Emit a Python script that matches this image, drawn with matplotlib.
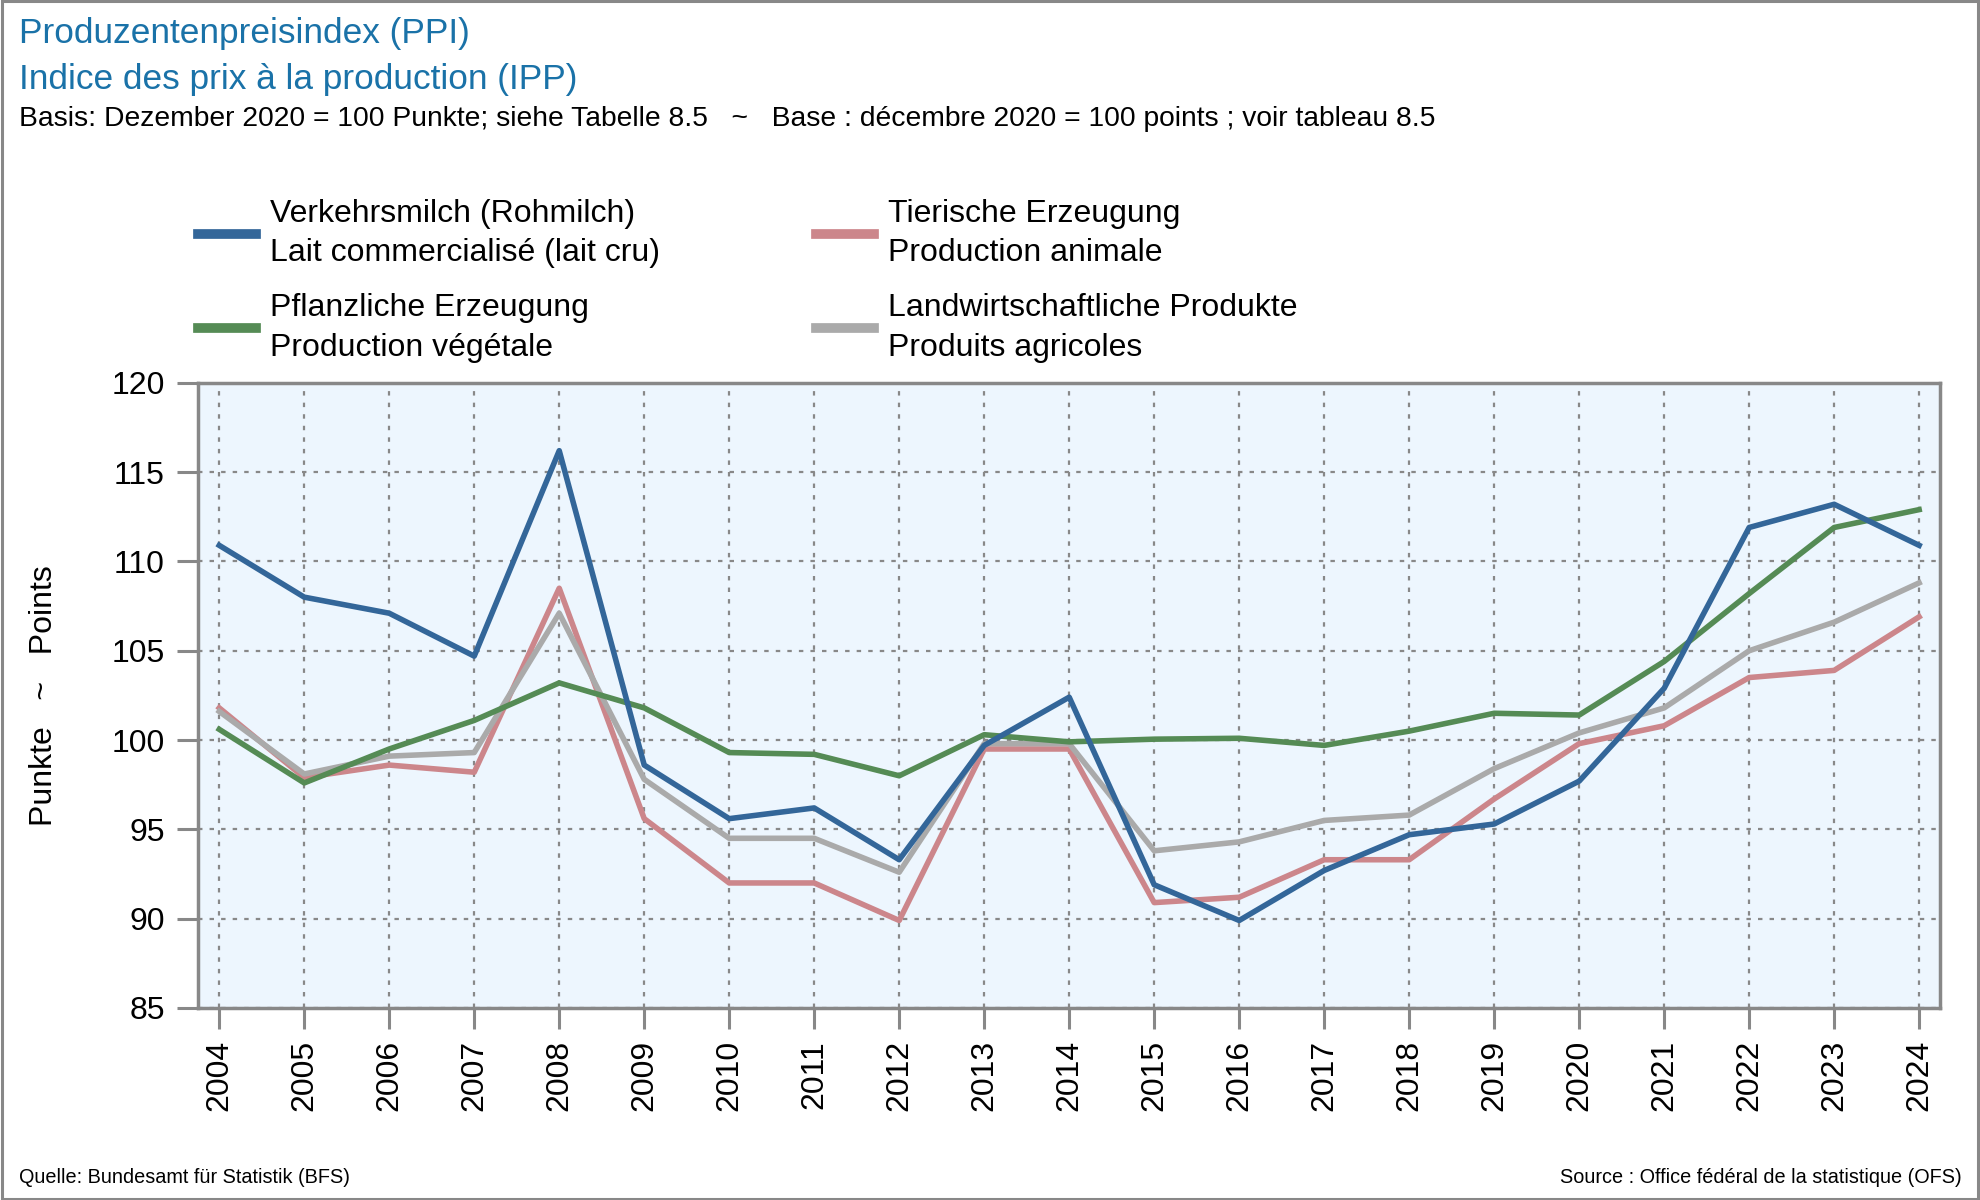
import matplotlib
matplotlib.use("Agg")
import matplotlib.pyplot as plt
from matplotlib.patches import Rectangle

plt.rcParams['font.family'] = ['Liberation Sans', 'DejaVu Sans']

years = list(range(2004, 2025))
milch = [110.9, 108.0, 107.1, 104.7, 116.2, 98.6, 95.6, 96.2, 93.3, 99.7, 102.4,
         91.9, 89.9, 92.7, 94.7, 95.3, 97.7, 102.9, 111.9, 113.2, 110.9]
tier = [101.8, 97.9, 98.6, 98.2, 108.5, 95.6, 92.0, 92.0, 89.9, 99.5, 99.5,
        90.9, 91.2, 93.3, 93.3, 96.7, 99.8, 100.8, 103.5, 103.9, 106.9]
pflanz = [100.6, 97.6, 99.5, 101.1, 103.2, 101.8, 99.3, 99.2, 98.0, 100.3, 99.9,
          100.05, 100.1, 99.7, 100.5, 101.5, 101.4, 104.4, 108.2, 111.9, 112.9]
landw = [101.6, 98.1, 99.1, 99.3, 107.1, 97.8, 94.5, 94.5, 92.6, 99.8, 99.8,
         93.8, 94.3, 95.5, 95.8, 98.4, 100.4, 101.8, 105.0, 106.6, 108.8]

labels = ["Verkehrsmilch (Rohmilch)\nLait commercialisé (lait cru)",
          "Tierische Erzeugung\nProduction animale",
          "Pflanzliche Erzeugung\nProduction végétale",
          "Landwirtschaftliche Produkte\nProduits agricoles"]
colors = ["#336699", "#CC868B", "#558B55", "#AAAAAA"]
yticks = [85, 90, 95, 100, 105, 110, 115, 120]

fig = plt.figure(figsize=(19.8, 12), dpi=100)
ax = fig.add_axes([0.1, 0.16, 0.88, 0.521])
ax.set_facecolor("#EDF6FE")

lw = 4.0
l_tier, = ax.plot(years, tier, color=colors[1], lw=lw, label=labels[1], zorder=3)
l_land, = ax.plot(years, landw, color=colors[3], lw=lw, label=labels[3], zorder=4)
l_pfl, = ax.plot(years, pflanz, color=colors[2], lw=lw, label=labels[2], zorder=5)
l_milch, = ax.plot(years, milch, color=colors[0], lw=lw, label=labels[0], zorder=6)

ax.set_xlim(2003.75, 2024.25)
ax.set_ylim(85, 120)
ax.set_yticks(yticks)
ax.set_xticks(years)
ax.set_xticklabels([str(y) for y in years], rotation=90)
ax.grid(True, color="#888888", lw=1.6, linestyle=(0, (2.0, 3.2)), zorder=1)
ax.set_axisbelow(True)
for s in ax.spines.values():
    s.set_color("#888888")
    s.set_linewidth(2.5)
ax.tick_params(axis='both', direction='out', length=15, width=2.2, color="#888888",
               labelsize=23, labelcolor="black")
ax.tick_params(axis='y', pad=9)
ax.tick_params(axis='x', pad=8)
ax.set_ylabel("Punkte   ~   Points", fontsize=23, labelpad=38)

leg = ax.legend(handles=[l_milch, l_pfl, l_tier, l_land], ncol=2, frameon=False,
                loc='upper left', bbox_to_anchor=(0.1, 0.834), bbox_transform=fig.transFigure,
                fontsize=23, handlelength=1.8, handletextpad=0.45, columnspacing=4.9,
                labelspacing=0.78, borderpad=0, borderaxespad=0)
for h in leg.get_lines():
    h.set_linewidth(7)
for t in leg.get_texts():
    t.set_linespacing(1.4)

title_c = "#1A72A8"
fig.text(0.0096, 0.972, "Produzentenpreisindex (PPI)", fontsize=25.4, color=title_c, va='center', ha='left')
fig.text(0.0096, 0.934, "Indice des prix à la production (IPP)", fontsize=25.4, color=title_c, va='center', ha='left')
fig.text(0.0096, 0.901, "Basis: Dezember 2020 = 100 Punkte; siehe Tabelle 8.5   ~   Base : décembre 2020 = 100 points ; voir tableau 8.5",
         fontsize=20.3, color="black", va='center', ha='left')
fig.text(0.0096, 0.019, "Quelle: Bundesamt für Statistik (BFS)", fontsize=14.3, va='center', ha='left')
fig.text(0.991, 0.019, "Source : Office fédéral de la statistique (OFS)", fontsize=14.3, va='center', ha='right')

fig.patches.append(Rectangle((0.0008, 0.0012), 0.9984, 0.9976, transform=fig.transFigure,
                             fill=False, edgecolor="#888888", lw=2.2))

fig.savefig("out.png", dpi=100)
